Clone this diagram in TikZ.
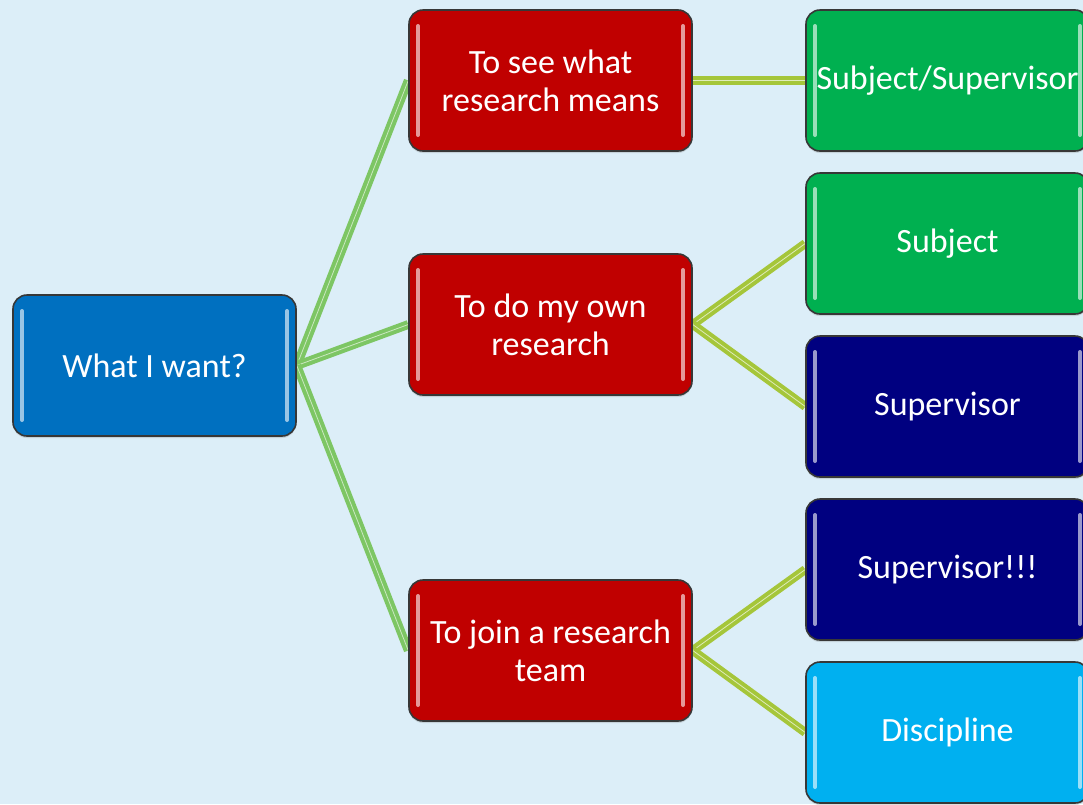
\documentclass[tikz,border=0pt]{standalone}
\usepackage{fontspec}
\setmainfont{Carlito}
\usetikzlibrary{shadows,backgrounds}
\definecolor{bg}{RGB}{220,238,248}
\definecolor{cblue}{RGB}{0,112,192}
\definecolor{cred}{RGB}{192,0,0}
\definecolor{cgreen}{RGB}{0,176,80}
\definecolor{cnavy}{RGB}{0,0,128}
\definecolor{clight}{RGB}{0,176,240}
\definecolor{lgreen}{RGB}{125,198,100}
\definecolor{lolive}{RGB}{165,198,58}
\definecolor{bordergray}{RGB}{55,55,55}
\tikzset{
  box/.style={draw=bordergray, line width=1.6pt, rounded corners=14pt,
    minimum width=283pt, minimum height=141pt, inner sep=0pt, outer sep=0.75pt,
    align=center, text=white, font=\fontsize{34}{38}\selectfont,
    drop shadow={opacity=0.25, shadow xshift=0pt, shadow yshift=-2pt},
    path picture={
      \draw[white, opacity=0.6, line width=4pt, line cap=round]
        ([xshift=9pt,yshift=-16pt]path picture bounding box.north west) --
        ([xshift=9pt,yshift=16pt]path picture bounding box.south west);
      \draw[white, opacity=0.6, line width=4pt, line cap=round]
        ([xshift=-9pt,yshift=-16pt]path picture bounding box.north east) --
        ([xshift=-9pt,yshift=16pt]path picture bounding box.south east);
    }},
  linkA/.style={draw=lgreen, line width=4pt, double=lgreen!40!white, double distance=0.8pt},
  linkB/.style={draw=lolive, line width=4pt, double=lolive!35!white, double distance=0.8pt}
}
\begin{document}
\begin{tikzpicture}[x=1pt,y=-1pt]
\useasboundingbox (0,0) rectangle (1083,804);
\clip (0,0) rectangle (1083,804);

\node[box, fill=cblue] (root) at (154.5,365.5) {What I want?};
\node[box, fill=cred] (r1) at (550.5,80.5) {To see what\\research means};
\node[box, fill=cred] (r2) at (550.5,324.5) {To do my own\\research};
\node[box, fill=cred] (r3) at (550.5,650.5) {To join a research\\team};

\node[box, fill=cgreen] (g1) at (947.5,80.5) {Subject/Supervisor};
\node[box, fill=cgreen] (g2) at (947.5,243.5) {Subject};
\node[box, fill=cnavy] (n1) at (947.5,406.5) {Supervisor};
\node[box, fill=cnavy] (n2) at (947.5,569.5) {Supervisor!!!};
\node[box, fill=clight] (c1) at (947.5,732.5) {Discipline};

\begin{scope}[on background layer]
\fill[bg] (0,0) rectangle (1083,804);
\draw[linkA] (root.east) -- (r1.west);
\draw[linkA] (root.east) -- (r2.west);
\draw[linkA] (root.east) -- (r3.west);
\draw[linkB] (r1.east) -- (g1.west);
\draw[linkB] (r2.east) -- (g2.west);
\draw[linkB] (r2.east) -- (n1.west);
\draw[linkB] (r3.east) -- (n2.west);
\draw[linkB] (r3.east) -- (c1.west);
\end{scope}
\end{tikzpicture}
\end{document}
